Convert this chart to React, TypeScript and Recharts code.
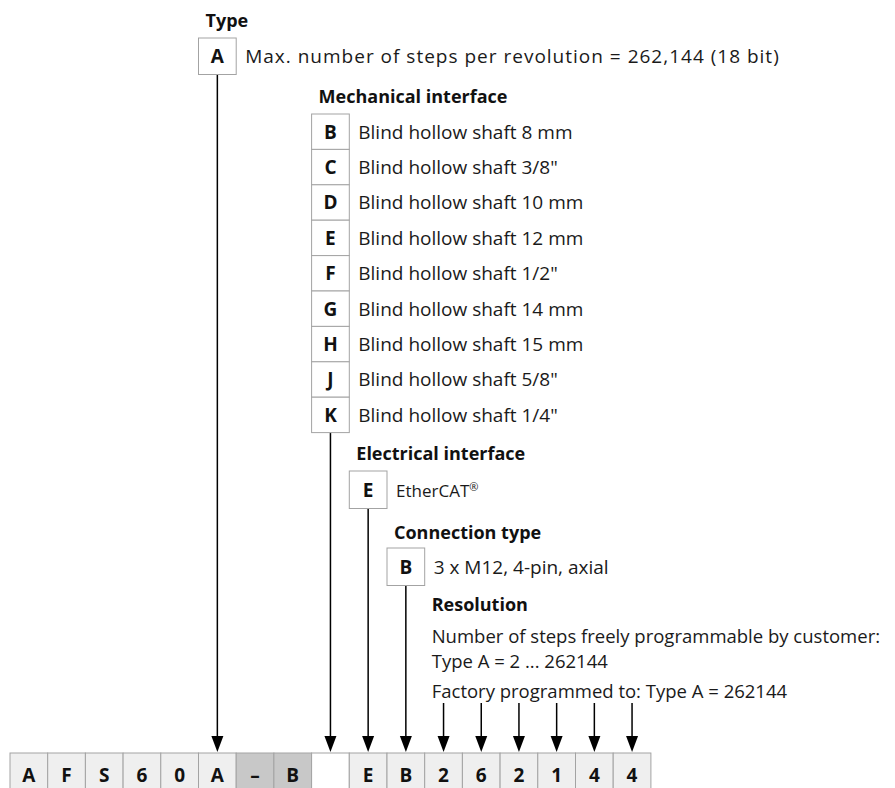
import React from 'react';
import { ScatterChart, Scatter, XAxis, YAxis, ReferenceLine } from 'recharts';

// type code, one character per cell ('' = position chosen from the options)
const codeChars = ['A', 'F', 'S', '6', '0', 'A', '–', 'B', '', 'E', 'B', '2', '6', '2', '1', '4', '4'];
const codeKinds = ['fixed', 'fixed', 'fixed', 'fixed', 'fixed', 'fixed', 'sep', 'sep', 'open', 'fixed', 'fixed', 'fixed', 'fixed', 'fixed', 'fixed', 'fixed', 'fixed'];

const groupTitles = ['Type', 'Mechanical interface', 'Electrical interface', 'Connection type', 'Resolution'];
const groupCells = [5, 8, 9, 10, 11];

const typeCodes = ['A'];
const typeLabels = ['Max. number of steps per revolution = 262,144 (18 bit)'];

const mechCodes = ['B', 'C', 'D', 'E', 'F', 'G', 'H', 'J', 'K'];
const mechLabels = [
  'Blind hollow shaft 8 mm',
  'Blind hollow shaft 3/8"',
  'Blind hollow shaft 10 mm',
  'Blind hollow shaft 12 mm',
  'Blind hollow shaft 1/2"',
  'Blind hollow shaft 14 mm',
  'Blind hollow shaft 15 mm',
  'Blind hollow shaft 5/8"',
  'Blind hollow shaft 1/4"',
];

const elecCodes = ['E'];
const elecLabels = ['EtherCAT®'];

const connCodes = ['B'];
const connLabels = ['3 x M12, 4-pin, axial'];

// resolution notes, one paragraph per entry
const resolutionNotes = [
  ['Number of steps freely programmable by customer:', 'Type A = 2 ... 262144'],
  ['Factory programmed to: Type A = 262144'],
];
const resolutionCells = [11, 12, 13, 14, 15, 16];

// layout
const W = 895;
const H = 788;
const LEFT = 10;
const CELL_W = 37.7;
const PLOT_W = CELL_W * codeChars.length;
const ROW_H = 35.4;
const BOX_H = 36.5;
const CELLS_TOP = 753;
const ARROW_TIP = 752;
const DIGIT_ARROW_TOP = 703;
const NOTE_LINE = 25;

const FONT = '"Open Sans", "DejaVu Sans", sans-serif';
const BORDER = '#a3a3a3';

const titleY = [27, 103, 460, 539, 611];
const boxTop = [38, 114, 471, 548];
const noteY = [643, 698];

const optionGroups = [
  { codes: typeCodes, labels: typeLabels, rowH: BOX_H },
  { codes: mechCodes, labels: mechLabels, rowH: ROW_H },
  { codes: elecCodes, labels: elecLabels, rowH: BOX_H + 1 },
  { codes: connCodes, labels: connLabels, rowH: BOX_H + 1 },
];

const boxData = optionGroups.flatMap((g, gi) =>
  g.codes.map((code, i) => ({
    x: groupCells[gi],
    y: boxTop[gi] + g.rowH * i + g.rowH / 2,
    h: g.rowH,
    code,
    label: g.labels[i],
    wide: gi === 0,
  }))
);

const groupBottom = optionGroups.map((g, gi) => boxTop[gi] + g.rowH * g.codes.length);

const titleData = groupTitles.map((t, i) => ({ x: groupCells[i], y: titleY[i], label: t }));
const noteData = resolutionNotes.map((lines, i) => ({ x: groupCells[4], y: noteY[i], lines }));
const cellData = codeChars.map((c, i) => ({ x: i, y: CELLS_TOP + 20, label: c, kind: codeKinds[i] }));
const arrowData = [...groupCells.slice(0, 4), ...resolutionCells].map((c) => ({ x: c, y: ARROW_TIP }));

const BoxShape = (p: any) => {
  const { cx, cy, payload } = p;
  const isEther = payload.label.endsWith('®');
  return (
    <g>
      <rect x={cx - CELL_W / 2} y={cy - payload.h / 2} width={CELL_W} height={payload.h} fill="#fff" stroke={BORDER} strokeWidth={1} />
      <text x={cx} y={cy + 6.8} textAnchor="middle" fontFamily={FONT} fontWeight={700} fontSize={19} fill="#111">
        {payload.code}
      </text>
      <text
        x={cx + CELL_W / 2 + 9}
        y={cy + 6.8}
        fontFamily={FONT}
        fontSize={isEther ? 17 : 19}
        letterSpacing={payload.wide ? 1 : 0}
        fill="#1a1a1a"
      >
        {isEther ? payload.label.slice(0, -1) : payload.label}
        {isEther && (
          <tspan fontSize={11} dy={-6}>
            ®
          </tspan>
        )}
      </text>
    </g>
  );
};

const TitleShape = (p: any) => (
  <text x={p.cx - CELL_W / 2 + 7} y={p.cy} fontFamily={FONT} fontWeight={700} fontSize={18} fill="#111">
    {p.payload.label}
  </text>
);

const NoteShape = (p: any) => {
  const x = p.cx - CELL_W / 2 + 7;
  return (
    <text x={x} y={p.cy} fontFamily={FONT} fontSize={18.5} fill="#1a1a1a">
      {p.payload.lines.map((l: string, i: number) => (
        <tspan key={i} x={x} dy={i === 0 ? 0 : NOTE_LINE}>
          {l}
        </tspan>
      ))}
    </text>
  );
};

const CellShape = (p: any) => {
  const { cx, payload } = p;
  const fill = payload.kind === 'sep' ? '#c8c8c8' : payload.kind === 'open' ? '#ffffff' : '#efefef';
  return (
    <g>
      <rect x={cx - CELL_W / 2} y={CELLS_TOP} width={CELL_W} height={44} fill={fill} stroke={BORDER} strokeWidth={1} />
      <text x={cx} y={CELLS_TOP + 29} textAnchor="middle" fontFamily={FONT} fontWeight={700} fontSize={19} fill="#111">
        {payload.label}
      </text>
    </g>
  );
};

const ArrowShape = (p: any) => (
  <polygon points={`${p.cx - 6},${p.cy - 16} ${p.cx + 6},${p.cy - 16} ${p.cx},${p.cy}`} fill="#000" />
);

export default function App() {
  return (
    <div style={{ width: W, height: H, background: '#fff' }}>
      <style>{'body{margin:0}'}</style>
      <ScatterChart width={W} height={H} margin={{ top: 0, right: W - LEFT - PLOT_W, bottom: 0, left: LEFT }}>
        <XAxis type="number" dataKey="x" domain={[-0.5, codeChars.length - 0.5]} hide />
        <YAxis type="number" dataKey="y" domain={[0, H]} reversed hide />
        {groupCells.slice(0, 4).map((c, i) => (
          <ReferenceLine
            key={'v' + i}
            segment={[
              { x: c, y: groupBottom[i] },
              { x: c, y: ARROW_TIP - 4 },
            ]}
            stroke="#000"
            strokeWidth={1.5}
          />
        ))}
        {resolutionCells.map((c, i) => (
          <ReferenceLine
            key={'r' + i}
            segment={[
              { x: c, y: DIGIT_ARROW_TOP },
              { x: c, y: ARROW_TIP - 4 },
            ]}
            stroke="#000"
            strokeWidth={1.5}
          />
        ))}
        <Scatter data={cellData} shape={CellShape} isAnimationActive={false} />
        <Scatter data={boxData} shape={BoxShape} isAnimationActive={false} />
        <Scatter data={titleData} shape={TitleShape} isAnimationActive={false} />
        <Scatter data={noteData} shape={NoteShape} isAnimationActive={false} />
        <Scatter data={arrowData} shape={ArrowShape} isAnimationActive={false} />
      </ScatterChart>
    </div>
  );
}
